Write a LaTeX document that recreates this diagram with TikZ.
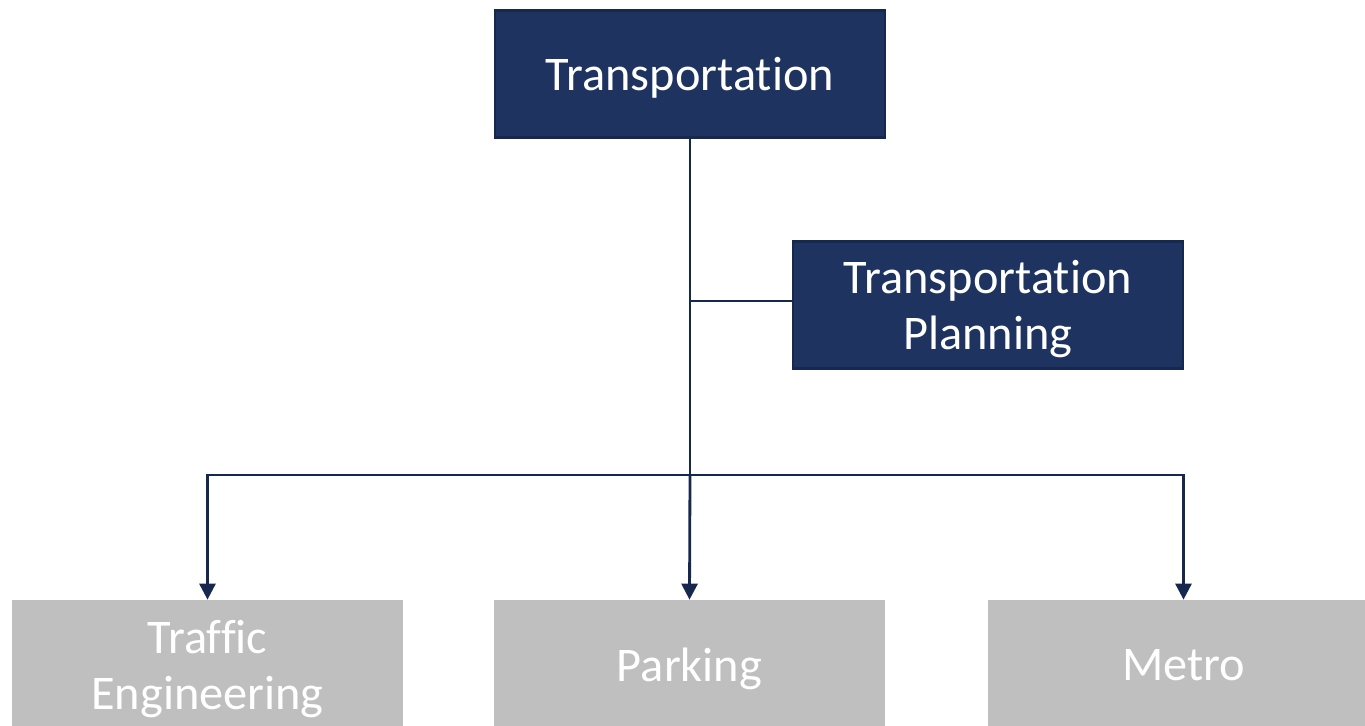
\documentclass[tikz,border=0pt]{standalone}
\usepackage{fontspec}
\setmainfont[Ligatures=NoCommon]{Carlito}
\usetikzlibrary{arrows.meta,positioning}
\definecolor{navy}{RGB}{30,51,96}
\definecolor{navyline}{RGB}{22,40,78}
\definecolor{boxgray}{RGB}{191,191,191}

\begin{document}
\begin{tikzpicture}[
		headbox/.style={draw=navyline, line width=1.6pt, fill=navy, text=white,
			minimum width=7.8cm, minimum height=2.55cm, align=center, text depth=0pt,
			font=\fontsize{27.5}{32}\selectfont},
		unitbox/.style={fill=boxgray, text=white,
			minimum width=7.82cm, minimum height=2.6cm, align=center, text depth=0pt,
			font=\fontsize{27.5}{32}\selectfont},
		link/.style={draw=navyline, line width=1.6pt},
		arrow/.style={link, -{Triangle[length=0.32cm, width=0.32cm]}}
	]
		\clip (0, 0) rectangle (27.3, -14.52);
		\node[headbox] (transport) at (13.8, -1.48) {Transportation};
		\node[headbox] (planning) at (19.76, -6.1) {Transportation\\Planning};
		\node[unitbox] (traffic) at (4.15, -13.3) {Traffic\\Engineering};
		\node[unitbox] (parking) at (13.79, -13.3) {Parking};
		\node[unitbox] (metro) at (23.67, -13.3) {Metro};
		\coordinate (split) at (13.8, -9.5);
		\coordinate (side) at (13.8, -6.02);
		\draw[link] (transport.south) -- (split);
		\draw[link] (side) -- (side -| planning.west);
		\draw[arrow] (split) -- (parking.north);
		\draw[arrow] (split) -| (traffic.north);
		\draw[arrow] (split) -| (metro.north);
		\end{tikzpicture}
\end{document}
